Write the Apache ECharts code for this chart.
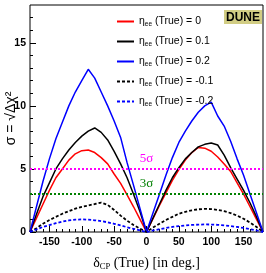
<!DOCTYPE html>
<html><head><meta charset="utf-8">
<script src="https://cdn.jsdelivr.net/npm/echarts@6/dist/echarts.min.js"></script>
<style>html,body{margin:0;padding:0;background:#fff}#c{width:266px;height:273px}</style>
</head><body><div id="c"></div>
<script>
const deltaCP = [-180,-170,-160,-150,-140,-130,-120,-110,-100,-90,-80,-70,-60,-50,-40,-30,-20,-10,0,10,20,30,40,50,60,70,80,90,100,110,120,130,140,150,160,170,180];
const sigmaEta0   = [0,1.1,2.2,3.3,4.3,5.0,5.7,6.2,6.45,6.5,6.3,5.9,5.4,4.6,3.85,2.95,2.0,1.0,0,1.05,2.1,3.1,4.1,4.95,5.7,6.3,6.7,6.65,6.4,5.95,5.4,4.8,3.9,3.0,2.0,1.0,0];
const sigmaEtaP01 = [0,1.4,2.8,3.9,5.0,5.8,6.5,7.1,7.6,8.0,8.25,7.9,7.3,6.4,5.4,4.3,3.0,1.6,0,1.1,2.2,3.3,4.3,5.1,5.8,6.3,6.75,6.95,7.05,6.9,6.1,5.1,4.2,3.3,2.3,1.2,0];
const sigmaEtaP02 = [0,2.0,4.0,5.8,7.4,8.7,10.0,11.1,12.0,12.9,12.2,11.1,10.0,8.8,7.5,5.5,3.7,1.85,0,1.5,3.0,4.5,5.9,7.1,8.0,8.8,9.5,10.0,10.3,9.2,8.4,7.2,5.8,4.5,3.0,1.5,0];
const sigmaEtaM01 = [0,0.3,0.65,0.95,1.2,1.45,1.65,1.85,2.0,2.1,2.22,2.33,2.15,1.75,1.3,0.9,0.55,0.27,0,0.35,0.65,0.95,1.2,1.45,1.6,1.72,1.8,1.83,1.82,1.75,1.65,1.5,1.3,1.05,0.75,0.4,0];
const sigmaEtaM02 = [0,0.2,0.4,0.55,0.7,0.82,0.92,0.98,1.0,0.98,0.93,0.86,0.77,0.65,0.52,0.38,0.25,0.12,0,0.12,0.22,0.32,0.4,0.47,0.52,0.56,0.58,0.6,0.59,0.57,0.53,0.47,0.4,0.32,0.22,0.12,0];
const etaLabels = ['0','0.1','0.2','-0.1','-0.2'];
const xTickLabels = [-150,-100,-50,0,50,100,150];
const xMinorTicks = [-170,-160,-140,-130,-120,-110,-90,-80,-70,-60,-40,-30,-20,-10,10,20,30,40,60,70,80,90,110,120,130,140,160,170];
const yTickLabels = [0,5,10,15];
const yMinorTicks = [1,2,3,4,6,7,8,9,11,12,13,14,16,17];
const sigmaLevels = [5,3];
const sigmaLabels = ['5σ','3σ'];

const SANS = '"Liberation Sans Narrow","Liberation Sans",Arial,sans-serif';
const SERIF = '"Liberation Serif","DejaVu Serif",serif';
const seriesValues = [sigmaEta0, sigmaEtaP01, sigmaEtaP02, sigmaEtaM01, sigmaEtaM02];
const colors = ['#ff0000','#000000','#0000ff','#000000','#0000ff'];
const types = ['solid','solid','solid',[3,2],[3,2]];
const widths = [1.5,1.5,1.5,1.8,1.8];
const sigmaColors = ['#ff00ff','#008000'];

const chart = echarts.init(document.getElementById('c'), null, {renderer:'canvas'});
const series = seriesValues.map((vals,i)=>({
  name: 'eta' + etaLabels[i],
  type: 'line',
  showSymbol: false,
  symbol: 'none',
  data: deltaCP.map((x,j)=>[x, vals[j]]),
  lineStyle: {color: colors[i], width: widths[i], type: types[i]},
  itemStyle: {color: colors[i]},
  z: 3
}));
sigmaLevels.forEach((lv,i)=>{
  series.push({
    type: 'line', data: [], silent: true, symbol: 'none',
    markLine: {
      silent: true, symbol: 'none', animation: false,
      lineStyle: {color: sigmaColors[i], width: 2, type: [2,2]},
      label: {show: true, position: 'insideMiddleTop', formatter: sigmaLabels[i], color: sigmaColors[i], fontFamily: SERIF, fontSize: 13, distance: 4},
      data: [{yAxis: lv}]
    }
  });
});

chart.setOption({
  animation: false,
  grid: {left: 30, right: 3, top: 5, bottom: 41, show: true, borderColor: '#000', borderWidth: 1, outerBoundsMode: 'none', containLabel: false},
  legend: {
    orient: 'vertical', left: 111, top: 10, itemWidth: 17, itemHeight: 14, itemGap: 7,
    data: etaLabels.map(v=>'eta'+v),
    itemStyle: {opacity: 0, borderWidth: 0},
    lineStyle: {opacity: 1},
    formatter: n => '{a|η}{s|ee}{a| (True) = ' + n.slice(3) + '}',
    textStyle: {rich: {
      a: {fontFamily: SANS, fontSize: 10.5, color: '#000', lineHeight: 14},
      s: {fontFamily: SANS, fontSize: 6.5, color: '#000', lineHeight: 14, padding: [6,0,0,0]}
    }},
    selectedMode: false
  },
  title: {
    text: 'DUNE', right: 4, top: 10, padding: [1,2,0,2], backgroundColor: '#d2cd84',
    textStyle: {fontFamily: SANS, fontSize: 12, fontWeight: 'bold', color: '#000', lineHeight: 13}
  },
  xAxis: [{
    type: 'value', min: -180, max: 180, position: 'bottom',
    axisLine: {show: false, onZero: false},
    splitLine: {show: false},
    axisTick: {show: true, inside: true, length: 6, customValues: xTickLabels, lineStyle: {color: '#000'}},
    axisLabel: {show: true, customValues: xTickLabels, margin: 5, color: '#000', fontFamily: SANS, fontSize: 10.5, fontWeight: 'bold'},
    name: '{d|δ}{s|CP}{d| (True) [in deg.]}', nameLocation: 'middle', nameGap: 23, nameMoveOverlap: false,
    nameTextStyle: {verticalAlign: 'top', rich: {
      d: {fontFamily: SERIF, fontSize: 14, color: '#000', lineHeight: 16},
      s: {fontFamily: SERIF, fontSize: 8.5, color: '#000', lineHeight: 16, padding: [8,0,0,0]}
    }}
  },{
    type: 'value', min: -180, max: 180, position: 'bottom',
    axisLine: {show: false, onZero: false}, splitLine: {show: false}, axisLabel: {show: false},
    axisTick: {show: true, inside: true, length: 3, customValues: xMinorTicks, lineStyle: {color: '#000'}}
  }],
  yAxis: [{
    type: 'value', min: 0, max: 18, position: 'left',
    axisLine: {show: false, onZero: false}, splitLine: {show: false},
    axisTick: {show: true, inside: true, length: 6, customValues: yTickLabels, lineStyle: {color: '#000'}},
    axisLabel: {show: true, customValues: yTickLabels, margin: 4, color: '#000', fontFamily: SANS, fontSize: 10.5, fontWeight: 'bold'},
    name: 'σ = √Δχ²', nameLocation: 'middle', nameRotate: 90, nameGap: 19, nameMoveOverlap: false,
    nameTextStyle: {fontFamily: SANS, fontSize: 14, color: '#000', verticalAlign: 'middle'}
  },{
    type: 'value', min: 0, max: 18, position: 'left',
    axisLine: {show: false, onZero: false}, splitLine: {show: false}, axisLabel: {show: false},
    axisTick: {show: true, inside: true, length: 3, customValues: yMinorTicks, lineStyle: {color: '#000'}}
  }],
  series: series
});
</script></body></html>
